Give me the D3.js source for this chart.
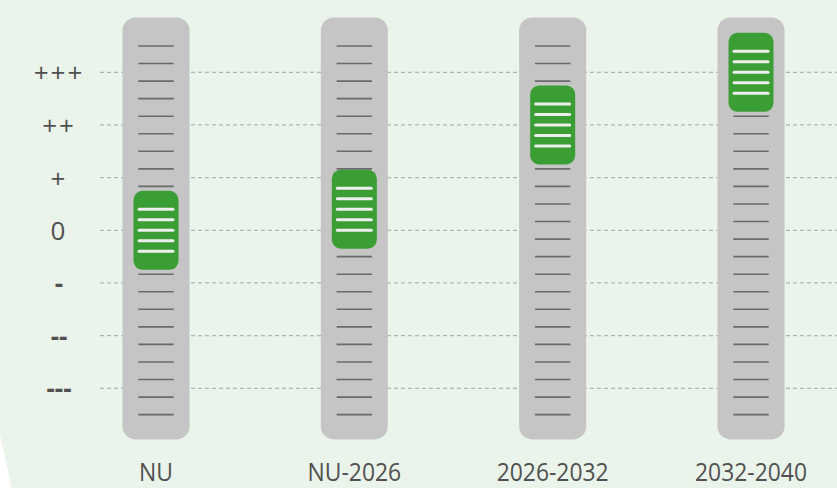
<!DOCTYPE html>
<html>
<head>
<meta charset="utf-8">
<script src="https://cdn.jsdelivr.net/npm/d3@7"></script>
<style>
  html, body { margin: 0; padding: 0; background: #eaf4ea; }
  svg { display: block; font-family: 'Open Sans', sans-serif; }
</style>
</head>
<body>
<svg id="chart"></svg>
<script>
const periods = ['NU', 'NU-2026', '2026-2032', '2032-2040']
const scores = [0, 0.4, 2, 3]
const levels = [3, 2, 1, 0, -1, -2, -3]
const levelLabels = ['+++', '++', '+', '0', '-', '--', '---']

const width = 837
const height = 488
const trackW = 67
const knobW = 45

const svg = d3.select('#chart').attr('width', width).attr('height', height)

const x = d3.scalePoint().domain(periods).range([156, 751])
const y = d3.scaleLinear().domain([-3, 3]).range([388.3, 72.3])
const step = y(0) - y(1 / 3)

// decorative corner circle
svg.append('circle')
  .attr('cx', -482).attr('cy', 565).attr('r', 493)
  .attr('fill', '#3a9e34')
  .attr('stroke', '#fff')
  .attr('stroke-width', 12)

// dashed grid + level labels
const grid = svg.append('g')
grid.selectAll('line')
  .data(levels)
  .join('line')
  .attr('x1', 100)
  .attr('x2', width)
  .attr('y1', (d) => y(d))
  .attr('y2', (d) => y(d))
  .attr('stroke', '#b3b3b3')
  .attr('stroke-width', 1.2)
  .attr('stroke-dasharray', '4 3')

grid.selectAll('text')
  .data(levels)
  .join('text')
  .attr('x', 59)
  .attr('y', (d) => y(d))
  .attr('text-anchor', 'middle')
  .attr('dominant-baseline', 'central')
  .attr('font-size', 26)
  .attr('letter-spacing', (d) => (d < 0 ? 0 : 2))
  .attr('font-weight', (d) => (d < 0 ? 700 : 400))
  .attr('fill', '#505050')
  .text((d, i) => levelLabels[i])

// tracks
const cols = svg.append('g')
  .selectAll('g')
  .data(periods)
  .join('g')
  .attr('transform', (d) => `translate(${x(d)},0)`)

cols.append('rect')
  .attr('x', -trackW / 2)
  .attr('y', y(4.04))
  .attr('width', trackW)
  .attr('height', y(-3.97) - y(4.04))
  .attr('rx', 13)
  .attr('fill', '#c5c5c5')

const notchLevels = d3.range(-11, 11).map((k) => (k + 0.5) / 3)
cols.selectAll('line.notch')
  .data(notchLevels)
  .join('line')
  .attr('class', 'notch')
  .attr('x1', -17.7)
  .attr('x2', 17.7)
  .attr('y1', (d) => y(d))
  .attr('y2', (d) => y(d))
  .attr('stroke', '#6a6a6a')
  .attr('stroke-width', 1.6)

// green knobs
const knobs = cols.append('g')
  .attr('transform', (d, i) => `translate(0,${y(scores[i])})`)

knobs.append('rect')
  .attr('x', -knobW / 2)
  .attr('y', -step * 2.25)
  .attr('width', knobW)
  .attr('height', step * 4.5)
  .attr('rx', 9)
  .attr('fill', '#3a9e34')

knobs.selectAll('line')
  .data([-2, -1, 0, 1, 2])
  .join('line')
  .attr('x1', -17)
  .attr('x2', 17)
  .attr('y1', (d) => d * step * 0.6)
  .attr('y2', (d) => d * step * 0.6)
  .attr('stroke', '#eeeeee')
  .attr('stroke-width', 3)
  .attr('stroke-linecap', 'round')

// period labels
cols.append('text')
  .attr('transform', 'translate(0,481) scale(0.88,1)')
  .attr('text-anchor', 'middle')
  .attr('font-size', 26)
  .attr('fill', '#505050')
  .text((d) => d)
</script>
</body>
</html>
